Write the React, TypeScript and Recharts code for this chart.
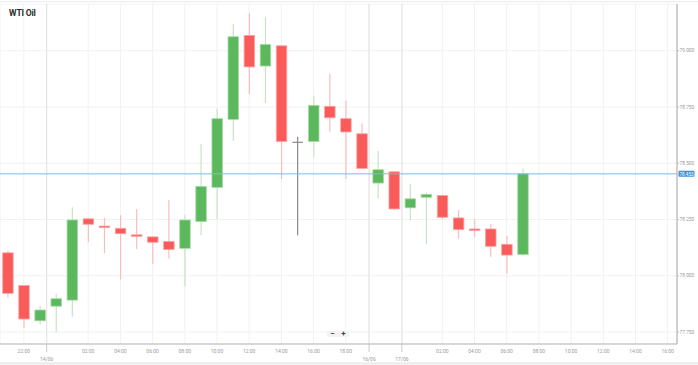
import React from 'react';
import {
  ComposedChart,
  Bar,
  XAxis,
  YAxis,
  CartesianGrid,
  ReferenceLine,
} from 'recharts';

const candleIndex = [
  0, 1, 2, 3, 4, 5, 6, 7, 8, 9, 10, 11, 12, 13, 14, 15, 16,
  17, 18, 19, 20, 21, 22, 23, 24, 25, 26, 27, 28, 29, 30, 31, 32,
];
const opens = [
  78.102, 77.957, 77.8, 77.865, 77.892, 78.253, 78.221, 78.211, 78.182, 78.173, 78.153,
  78.122, 78.241, 78.393, 78.695, 79.068, 78.932, 79.022, 78.593, 78.597, 78.753, 78.698,
  78.631, 78.412, 78.462, 78.302, 78.349, 78.357, 78.257, 78.208, 78.208, 78.14, 78.095,
];
const highs = [
  78.111, 77.959, 77.867, 77.92, 78.304, 78.257, 78.257, 78.269, 78.297, 78.174, 78.337,
  78.269, 78.584, 78.742, 79.117, 79.166, 79.148, 79.023, 78.618, 78.8, 78.898, 78.778,
  78.677, 78.554, 78.463, 78.409, 78.369, 78.359, 78.292, 78.252, 78.23, 78.177, 78.477,
];
const lows = [
  77.904, 77.769, 77.784, 77.749, 77.818, 78.15, 78.1, 77.984, 78.119, 78.051, 78.077,
  77.954, 78.18, 78.251, 78.6, 78.808, 78.768, 78.43, 78.18, 78.529, 78.64, 78.43,
  78.474, 78.344, 78.294, 78.248, 78.14, 78.251, 78.165, 78.173, 78.085, 78.009, 78.089,
];
const closes = [
  77.922, 77.808, 77.848, 77.898, 78.248, 78.229, 78.214, 78.187, 78.177, 78.149, 78.117,
  78.248, 78.397, 78.698, 79.062, 78.928, 79.028, 78.597, 78.593, 78.757, 78.702, 78.639,
  78.477, 78.471, 78.297, 78.342, 78.362, 78.26, 78.205, 78.205, 78.131, 78.092, 78.453,
];

const xTickPositions = [1, 2.42, 5, 7, 9, 11, 13, 15, 17, 19, 21, 22.45, 24.49, 27, 29, 31, 33, 35, 37, 39, 41];
const xTickLabels = [
  '22:00', '14/06', '02:00', '04:00', '06:00', '08:00', '10:00', '12:00', '14:00', '16:00',
  '18:00', '16/06', '17/06', '02:00', '04:00', '06:00', '08:00', '10:00', '12:00', '14:00', '16:00',
];
const dayLabels = ['14/06', '16/06', '17/06'];
const yTicks = [77.75, 78.0, 78.25, 78.5, 78.75, 79.0];
const lastPrice = 78.453;

const data = candleIndex.map((i, k) => ({
  i,
  open: opens[k],
  high: highs[k],
  low: lows[k],
  close: closes[k],
  range: [lows[k], highs[k]],
}));

const labelFor = (v: number) => {
  const k = xTickPositions.indexOf(v);
  return k >= 0 ? xTickLabels[k] : '';
};

const Candle = (props: any) => {
  const { x, y, width, height, payload } = props;
  const { open, close, high, low } = payload;
  const top = Math.min(y, y + height);
  const h = Math.abs(height);
  const ratio = h / (high - low);
  const yOf = (v: number) => top + (high - v) * ratio;
  const cx = x + width / 2;
  if (open === close) {
    const yy = yOf(open);
    return (
      <g>
        <line x1={cx} x2={cx} y1={top} y2={top + h} stroke="#8a8a8a" strokeWidth={1.2} />
        <line x1={x} x2={x + width} y1={yy} y2={yy} stroke="#8a8a8a" strokeWidth={1.2} />
      </g>
    );
  }
  const up = close > open;
  const body = up ? '#5cb85c' : '#f95a5a';
  const edge = up ? '#a6d9a6' : '#fca3a3';
  const wick = up ? '#c3e5c3' : '#fbbcbc';
  const bt = yOf(Math.max(open, close));
  const bb = yOf(Math.min(open, close));
  const bh = Math.max(bb - bt, 1.5);
  return (
    <g>
      <line x1={cx} x2={cx} y1={top} y2={top + h} stroke={wick} strokeWidth={1.2} />
      <rect x={x} y={bt} width={width} height={bh} fill={body} stroke={edge} strokeWidth={0.8} />
    </g>
  );
};

const XTick = (props: any) => {
  const { x, y, payload } = props;
  const label = labelFor(payload.value);
  const isDay = dayLabels.indexOf(label) >= 0;
  return (
    <g>
      {isDay && <line x1={x} x2={x} y1={y} y2={y + 8} stroke="#c8c8c8" strokeWidth={1} />}
      <text
        x={x}
        y={isDay ? y + 16.5 : y + 8.5}
        textAnchor="middle"
        fontSize={5}
        fill="#9a9a9a"
        fontFamily="Roboto, sans-serif"
      >
        {label}
      </text>
    </g>
  );
};

const YTick = (props: any) => {
  const { x, y, payload } = props;
  return (
    <g>
      <line x1={x} x2={x + 2} y1={y} y2={y} stroke="#bbbbbb" strokeWidth={1} />
      <text x={x + 2.5} y={y + 1.7} fontSize={4.8} fill="#9a9a9a" fontFamily="Roboto, sans-serif">
        {payload.value.toFixed(3)}
      </text>
    </g>
  );
};

const PriceLabel = (props: any) => {
  const { viewBox } = props;
  const yy = viewBox.y;
  const xx = viewBox.x + viewBox.width + 1.5;
  return (
    <g>
      <rect x={xx} y={yy - 3} width={16} height={6} fill="#3a95e0" rx={0.8} />
      <text x={xx + 8} y={yy + 1.7} textAnchor="middle" fontSize={4.6} fill="#ffffff" fontFamily="Roboto, sans-serif">
        {lastPrice.toFixed(3)}
      </text>
    </g>
  );
};

export default function App() {
  return (
    <div style={{ position: 'absolute', left: 0, top: 0, width: 698, height: 365, background: '#ffffff', overflow: 'hidden' }}>
      <div style={{ position: 'absolute', left: 0, top: 1, width: 698, height: 1, background: '#ececec' }} />
      <ComposedChart
        width={698}
        height={365}
        data={data}
        margin={{ top: 4, right: 0, bottom: 0, left: 0 }}
        barGap={0}
      >
        <CartesianGrid stroke="#f1f1f1" strokeWidth={1} />
        <XAxis
          type="number"
          dataKey="i"
          domain={[-0.48, 41.58]}
          allowDataOverflow
          ticks={xTickPositions}
          interval={0}
          tick={<XTick />}
          tickLine={false}
          tickSize={0}
          tickMargin={0}
          axisLine={{ stroke: '#b5b5b5' }}
          height={21}
        />
        <YAxis
          orientation="right"
          domain={[77.697, 79.2075]}
          allowDataOverflow
          ticks={yTicks}
          interval={0}
          tick={<YTick />}
          tickLine={false}
          tickSize={0}
          tickMargin={0}
          axisLine={{ stroke: '#a8a8a8' }}
          width={21}
        />
        {dayLabels.map((d) => (
          <ReferenceLine key={d} x={xTickPositions[xTickLabels.indexOf(d)]} stroke="#e2e2e2" strokeWidth={1} />
        ))}
        <ReferenceLine y={lastPrice} stroke="#7cbbea" strokeWidth={1} label={<PriceLabel />} />
        <Bar dataKey="range" barSize={10.5} shape={<Candle />} isAnimationActive={false} />
      </ComposedChart>
      <div
        style={{
          position: 'absolute',
          left: 9,
          top: 7.5,
          fontFamily: 'Roboto, Arial, sans-serif',
          fontWeight: 700,
          fontSize: 8.6,
          color: '#2b2b2b',
          letterSpacing: -0.2,
        }}
      >
        WTI Oil
      </div>
      <div style={{ position: 'absolute', left: 0, top: 362, width: 698, height: 3, background: '#efefef' }} />
      <div
        style={{
          position: 'absolute',
          left: 327,
          top: 331,
          width: 22,
          height: 6,
          background: '#f3f3f3',
          fontFamily: 'Roboto, sans-serif',
          fontSize: 8,
          lineHeight: '6px',
          color: '#444',
          display: 'flex',
          justifyContent: 'space-around',
          fontWeight: 700,
        }}
      >
        <span>−</span>
        <span>+</span>
      </div>
    </div>
  );
}
